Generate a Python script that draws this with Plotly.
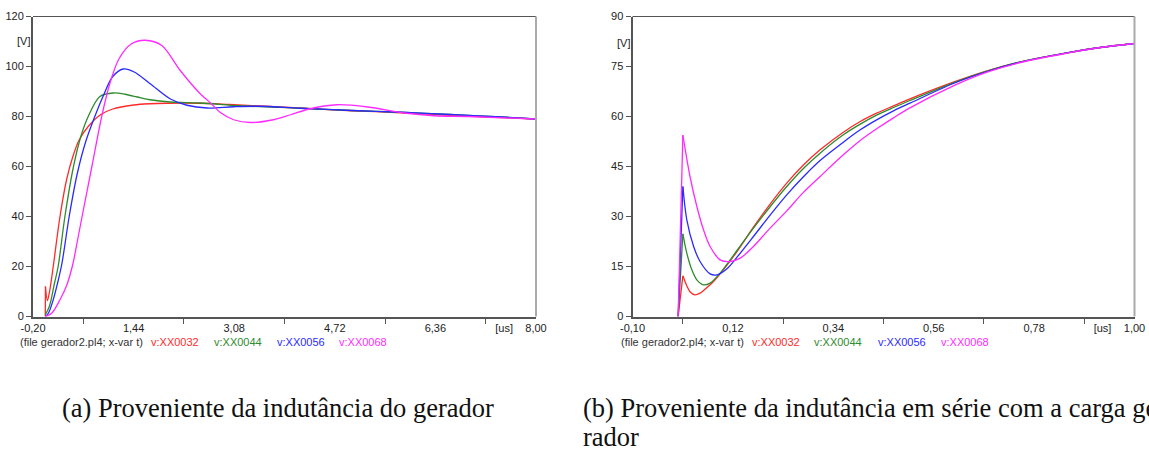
import plotly.graph_objects as go

W, H = 1149, 450

# ---------- data: (a) generator inductance ----------
a_red_t = [0, 0.003, 0.035, 0.07, 0.13, 0.24, 0.35, 0.45, 0.55, 0.70, 0.90, 1.1, 1.44, 1.7, 1.98, 2.5, 3.0, 3.5, 4.2, 5.0, 5.8, 6.5, 7.2, 8.0]
a_red_v = [0, 12, 6.3, 10, 20, 40, 55, 64, 70.5, 76, 80.7, 83, 84.6, 85.1, 85.3, 85.3, 84.8, 84.2, 83.3, 82.3, 81.5, 80.6, 79.8, 79.0]

a_grn_t = [0, 0.066, 0.15, 0.21, 0.32, 0.46, 0.58, 0.70, 0.89, 1.11, 1.3, 1.5, 1.71, 2.04, 2.53, 3.18, 4.16, 5.0, 5.8, 6.6, 7.43, 8.0]
a_grn_v = [0.7, 4, 13.3, 20, 40, 60, 72, 80, 88, 89.4, 88.9, 87.8, 86.7, 85.8, 85.4, 84.3, 83.3, 82.4, 81.7, 80.8, 79.8, 79.0]

a_blu_t = [0, 0.05, 0.13, 0.2, 0.27, 0.39, 0.52, 0.66, 0.80, 0.95, 1.1, 1.27, 1.45, 1.71, 2.04, 2.31, 2.64, 3.07, 3.5, 4.16, 5.0, 5.8, 6.6, 7.43, 8.0]
a_blu_v = [0, 1.3, 6.7, 13.3, 21, 40, 57, 70, 79.5, 88.5, 96, 99, 97.8, 93.1, 87, 84.5, 83.4, 83.9, 84.1, 83.3, 82.4, 81.7, 80.8, 79.8, 79.0]

a_mag_t = [0, 0.105, 0.24, 0.35, 0.45, 0.53, 0.60, 0.76, 0.92, 1.05, 1.2, 1.4, 1.63, 1.9, 2.2, 2.53, 2.69, 2.86, 3.07, 3.35, 3.72, 4.0, 4.3, 4.76, 5.26, 5.85, 6.34, 6.9, 8.0]
a_mag_v = [0, 1.3, 6.7, 12.5, 21, 31, 40, 60, 80, 93, 103, 109, 110.5, 108.4, 98.4, 89, 85.5, 81.5, 78.7, 77.6, 78.7, 80.7, 83, 84.7, 83.8, 81.4, 80.3, 80.0, 79.0]

# ---------- data: (b) series inductance with the load ----------
b_red_t = [0, 0.0104, 0.018, 0.027, 0.037, 0.048, 0.0556, 0.0775, 0.099, 0.129, 0.165, 0.202, 0.238, 0.275, 0.311, 0.362, 0.399, 0.435, 0.472, 0.508, 0.603, 0.677, 0.75, 0.852, 0.925, 1.0]
b_red_v = [0, 12.2, 9.5, 7.3, 6.5, 7.0, 7.8, 10.5, 14, 19.5, 26.8, 33.8, 40.0, 45.5, 50.0, 55.3, 58.5, 61, 63.2, 65.3, 70.3, 73.7, 76.4, 79.1, 80.7, 81.9]

b_grn_t = [0, 0.0104, 0.019, 0.030, 0.041, 0.0556, 0.070, 0.092, 0.129, 0.165, 0.202, 0.238, 0.275, 0.311, 0.362, 0.399, 0.435, 0.472, 0.508, 0.603, 0.677, 0.75, 0.852, 0.925, 1.0]
b_grn_v = [0, 24.8, 19, 14, 11, 9.5, 10, 13, 19.8, 26.5, 33, 39, 44.5, 49, 54.5, 57.7, 60.4, 62.7, 64.8, 70.1, 73.6, 76.4, 79.1, 80.7, 81.9]

b_blu_t = [0, 0.0104, 0.019, 0.034, 0.048, 0.070, 0.085, 0.107, 0.129, 0.165, 0.202, 0.238, 0.275, 0.311, 0.362, 0.399, 0.435, 0.472, 0.508, 0.603, 0.677, 0.75, 0.852, 0.925, 1.0]
b_blu_v = [0, 39, 29, 21, 16.5, 12.8, 12.5, 14.3, 17.8, 24, 30.5, 36.5, 42, 46.8, 52.3, 56, 59, 61.7, 64, 69.9, 73.5, 76.3, 79.1, 80.7, 81.9]

b_mag_t = [0, 0.0104, 0.026, 0.041, 0.0556, 0.070, 0.092, 0.114, 0.136, 0.165, 0.198, 0.238, 0.275, 0.311, 0.362, 0.399, 0.435, 0.472, 0.508, 0.603, 0.677, 0.75, 0.852, 0.925, 1.0]
b_mag_v = [0, 54.4, 42, 33, 26, 21, 17, 16.5, 17.5, 21, 26, 31.7, 37.3, 42, 48.5, 52.8, 56.3, 59.6, 62.6, 69.2, 73.3, 76.2, 79.0, 80.7, 81.9]

series_names = ["v:XX0032", "v:XX0044", "v:XX0056", "v:XX0068"]
series_colors = ["#ff2a2a", "#2e8b2e", "#2a2aff", "#ff2aff"]

a_xtickvals = [-0.20, 1.44, 3.08, 4.72, 6.36, 7.48, 8.00]
a_xticktext = ["-0,20", "1,44", "3,08", "4,72", "6,36", "[us]", "8,00"]
a_xminor = [0.62, 2.26, 3.90, 5.54, 7.18]
a_yticks = [0, 20, 40, 60, 80, 100, 120]

b_xtickvals = [-0.10, 0.12, 0.34, 0.56, 0.78, 0.93, 1.00]
b_xticktext = ["-0,10", "0,12", "0,34", "0,56", "0,78", "[us]", "1,00"]
b_xminor = [0.01, 0.23, 0.45, 0.67, 0.89]
b_yticks = [0, 15, 30, 45, 60, 75, 90]

file_label = "(file gerador2.pl4; x-var t)"
caption_a = "(a) Proveniente da indutância do gerador"
caption_b1 = "(b) Proveniente da indutância em série com a carga ge-"
caption_b2 = "rador"

# ---------- figure ----------
fig = go.Figure()

def px_x(p):
    return p / W

def px_y(p):
    return 1 - p / H

dom_y = [px_y(316.5), px_y(16.5)]
dom_xa = [px_x(33), px_x(536)]
dom_xb = [px_x(632.5), px_x(1134.5)]

def add_series(ts, vs, color, xa, ya, sharp_start):
    if sharp_start:
        fig.add_trace(go.Scatter(x=ts[:2], y=vs[:2], mode="lines", xaxis=xa, yaxis=ya,
                                 line=dict(color=color, width=1.3), showlegend=False, hoverinfo="skip"))
        fig.add_trace(go.Scatter(x=ts[1:], y=vs[1:], mode="lines", xaxis=xa, yaxis=ya,
                                 line=dict(color=color, width=1.3, shape="spline", smoothing=0.9),
                                 showlegend=False, hoverinfo="skip"))
    else:
        fig.add_trace(go.Scatter(x=ts, y=vs, mode="lines", xaxis=xa, yaxis=ya,
                                 line=dict(color=color, width=1.3, shape="spline", smoothing=0.9),
                                 showlegend=False, hoverinfo="skip"))

a_sets = [(a_red_t, a_red_v, True), (a_grn_t, a_grn_v, False), (a_blu_t, a_blu_v, False), (a_mag_t, a_mag_v, False)]
for (t, v, sh), c in zip(a_sets, series_colors):
    add_series(t, v, c, "x", "y", sh)

b_sets = [(b_red_t, b_red_v), (b_grn_t, b_grn_v), (b_blu_t, b_blu_v), (b_mag_t, b_mag_v)]
for (t, v), c in zip(b_sets, series_colors):
    add_series(t, v, c, "x2", "y2", True)

font = dict(family="Liberation Sans, Arial, sans-serif", size=11, color="#222222")
axis_col = "#555555"

def xaxis_cfg(domain, rng, tv, tt, minor, anchor):
    return dict(domain=domain, range=rng, anchor=anchor, tickmode="array", tickvals=tv, ticktext=tt,
                ticks="", showgrid=False, zeroline=False, showline=True, linecolor=axis_col, linewidth=2,
                tickfont=font, fixedrange=True, automargin=False,
                minor=dict(tickmode="array", tickvals=minor, ticks="outside", ticklen=5,
                           tickwidth=1, tickcolor=axis_col, showgrid=False))

def yaxis_cfg(rng, tv, anchor):
    return dict(domain=dom_y, range=rng, anchor=anchor, tickmode="array", tickvals=tv,
                ticktext=[str(v) for v in tv], ticks="outside", ticklen=5, tickwidth=1, tickcolor=axis_col,
                showgrid=False, zeroline=False, showline=True, linecolor=axis_col, linewidth=2,
                tickfont=font, fixedrange=True, automargin=False)

fig.update_layout(
    template="none",
    width=W, height=H, autosize=False,
    margin=dict(l=0, r=0, t=0, b=0, pad=0, autoexpand=False),
    paper_bgcolor="white", plot_bgcolor="white",
    showlegend=False,
    xaxis=xaxis_cfg(dom_xa, [-0.2, 8.0], a_xtickvals, a_xticktext, a_xminor, "y"),
    yaxis=yaxis_cfg([0, 120], a_yticks, "x"),
    xaxis2=xaxis_cfg(dom_xb, [-0.1, 1.0], b_xtickvals, b_xticktext, b_xminor, "y2"),
    yaxis2=yaxis_cfg([0, 90], b_yticks, "x2"),
)

shapes = []
for xr, yr in (("x domain", "y domain"), ("x2 domain", "y2 domain")):
    shapes.append(dict(type="line", xref=xr, yref=yr, x0=0, x1=1, y0=1, y1=1,
                       line=dict(color="#555555", width=1.2)))
    shapes.append(dict(type="line", xref=xr, yref=yr, x0=1, x1=1, y0=0, y1=1,
                       line=dict(color="#aaaaaa", width=2)))
fig.update_layout(shapes=shapes)

ann = []
ann.append(dict(xref="x domain", yref="y", x=0, y=110, xanchor="right", yanchor="middle",
                text="[V]", showarrow=False, font=font, xshift=-1))
ann.append(dict(xref="x2 domain", yref="y2", x=0, y=82, xanchor="right", yanchor="middle",
                text="[V]", showarrow=False, font=font, xshift=-1))

legend_rows = [
    (18, [149, 212, 275, 337]),
    (619, [750, 812, 876, 939]),
]
for start, xs in legend_rows:
    ann.append(dict(xref="paper", yref="paper", x=px_x(start), y=px_y(342), xanchor="left", yanchor="middle",
                    text=file_label, showarrow=False, font=dict(font, color="#333333")))
    for xpos, name, col in zip(xs, series_names, series_colors):
        ann.append(dict(xref="paper", yref="paper", x=px_x(xpos), y=px_y(342), xanchor="left", yanchor="middle",
                        text=name, showarrow=False, font=dict(font, color=col)))

cap_font = dict(family="Liberation Serif, Times New Roman, serif", size=26.5, color="#111111")
ann.append(dict(xref="paper", yref="paper", x=px_x(60), y=px_y(408), xanchor="left", yanchor="middle",
                text=caption_a, showarrow=False, font=cap_font))
ann.append(dict(xref="paper", yref="paper", x=px_x(581), y=px_y(408), xanchor="left", yanchor="middle",
                text=caption_b1, showarrow=False, font=cap_font))
ann.append(dict(xref="paper", yref="paper", x=px_x(581), y=px_y(437), xanchor="left", yanchor="middle",
                text=caption_b2, showarrow=False, font=cap_font))
fig.update_layout(annotations=ann)

fig.write_html("out.html", config={"displayModeBar": False},
               post_script="document.body.style.margin='0';document.body.style.overflow='hidden';")
